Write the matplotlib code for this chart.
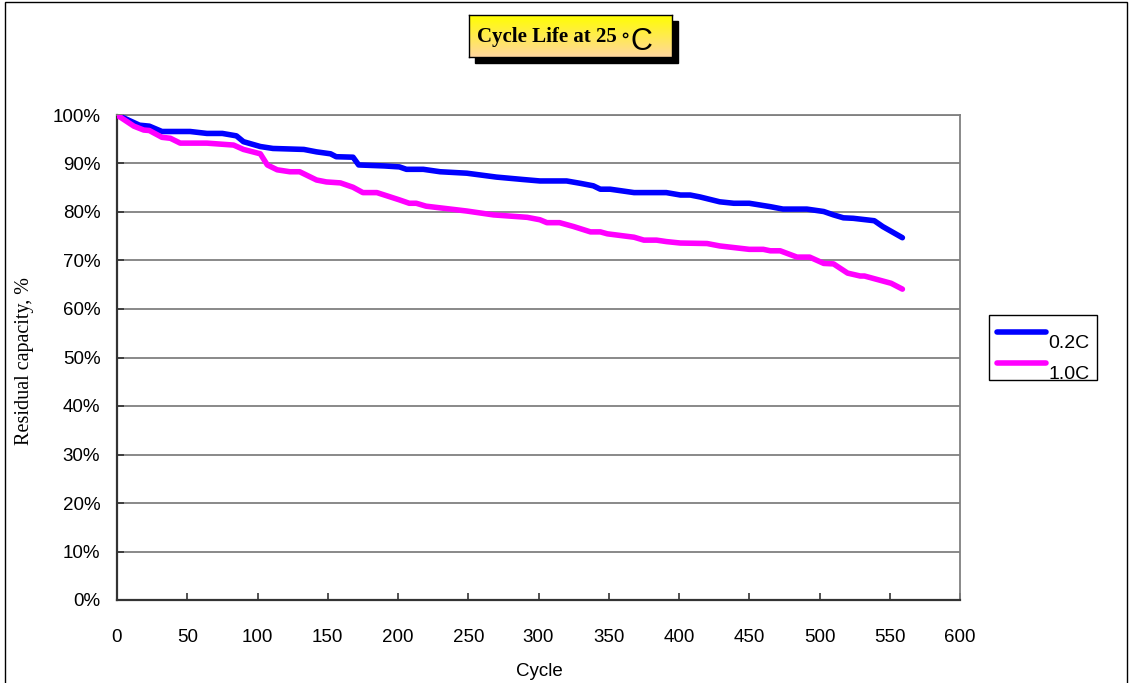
import numpy as np
import matplotlib.pyplot as plt
from matplotlib.patches import Rectangle
from matplotlib.lines import Line2D

# values
cycles_02c = [0, 4, 16, 23, 32, 52, 64, 75, 85, 90, 102, 111, 133, 142, 152, 156, 168, 172,
              190, 201, 206, 218, 230, 249, 270, 289, 301, 320, 330, 339, 344, 351, 368, 391,
              401, 408, 415, 429, 439, 450, 465, 474, 491, 503, 510, 517, 524, 539, 545, 559]
capacity_02c = [100, 99.5, 97.9, 97.7, 96.6, 96.6, 96.2, 96.2, 95.7, 94.5, 93.5, 93.1, 92.9,
                92.4, 92.0, 91.4, 91.3, 89.7, 89.5, 89.3, 88.8, 88.8, 88.3, 88.0, 87.2, 86.7,
                86.4, 86.4, 85.9, 85.4, 84.7, 84.7, 84.0, 84.0, 83.5, 83.5, 83.1, 82.1, 81.8,
                81.8, 81.1, 80.6, 80.6, 80.1, 79.4, 78.8, 78.7, 78.2, 77.0, 74.7]

cycles_10c = [0, 12, 19, 23, 32, 38, 45, 64, 83, 90, 102, 107, 114, 123, 130, 142, 149, 159,
              168, 175, 185, 201, 208, 213, 220, 249, 268, 292, 301, 306, 315, 325, 337, 344,
              349, 368, 375, 384, 391, 401, 420, 429, 450, 460, 465, 472, 484, 493, 503, 510,
              520, 529, 532, 551, 559]
capacity_10c = [100, 97.7, 96.9, 96.8, 95.4, 95.2, 94.2, 94.2, 93.8, 92.9, 92.0, 89.7, 88.7,
                88.3, 88.3, 86.6, 86.2, 86.0, 85.1, 84.0, 84.0, 82.5, 81.8, 81.8, 81.2, 80.2,
                79.4, 78.9, 78.4, 77.8, 77.8, 77.0, 75.9, 75.9, 75.5, 74.8, 74.2, 74.2, 73.9,
                73.6, 73.5, 73.0, 72.3, 72.3, 72.0, 72.0, 70.7, 70.7, 69.4, 69.3, 67.4, 66.8,
                66.8, 65.3, 64.1]

series_labels = ['0.2C', '1.0C']
series_colors = ['#0000FF', '#FF00FF']
x_ticks = list(range(0, 601, 50))
y_ticks = list(range(0, 101, 10))

W, H = 1131, 683
fig = plt.figure(figsize=(W / 100, H / 100), dpi=100)
sans = ['Liberation Sans', 'DejaVu Sans']
serif = ['Liberation Serif', 'DejaVu Serif']

ax = fig.add_axes([117 / W, 1 - 600 / H, (960 - 117) / W, (600 - 115) / H])
lines = []
for xs, ys, lab, col in [(cycles_02c, capacity_02c, series_labels[0], series_colors[0]),
                         (cycles_10c, capacity_10c, series_labels[1], series_colors[1])]:
    ln, = ax.plot(xs, ys, color=col, lw=4.0, solid_capstyle='round', label=lab, zorder=3)
    lines.append(ln)

ax.set_xlim(0, 600)
ax.set_ylim(0, 100)
ax.set_xticks(x_ticks)
ax.set_yticks(y_ticks)
ax.set_xticklabels([str(v) for v in x_ticks], family=sans, fontsize=13.5)
ax.set_yticklabels([f'{v}%' for v in y_ticks], family=sans, fontsize=13.5)
ax.tick_params(direction='in', length=5, width=1.2, color='#333333')
ax.tick_params(axis='x', pad=21)
ax.tick_params(axis='y', pad=12)
ax.yaxis.grid(True, color='#808080', lw=1.3)
ax.set_axisbelow(True)
for side in ['left', 'bottom']:
    ax.spines[side].set_color('#333333')
    ax.spines[side].set_linewidth(1.6)
for side in ['top', 'right']:
    ax.spines[side].set_color('#808080')
    ax.spines[side].set_linewidth(1.3)

fig.text(25 / W, 1 - 361 / H, 'Residual capacity, %', rotation=90, ha='center',
         va='center', family=serif, fontsize=14.5)
fig.text(539 / W, 1 - 671 / H, 'Cycle', ha='center', va='center', family=sans, fontsize=13.5)

# legend drawn by hand, label text sits a bit below its line as in the reference
fig.patches.append(Rectangle((989 / W, 1 - 380 / H), 108 / W, 65 / H, fill=False,
                             transform=fig.transFigure, edgecolor='black', lw=1.0))
for i, ln in enumerate(lines):
    yl = 332 + 31 * i
    fig.lines.append(Line2D([997 / W, 1046 / W], [1 - yl / H, 1 - yl / H],
                            transform=fig.transFigure, color=ln.get_color(),
                            lw=ln.get_linewidth(), solid_capstyle='round'))
    fig.text(1048 / W, 1 - (yl + 16) / H, ln.get_label(), ha='left', va='baseline',
             family=sans, fontsize=14)

# title box with gradient and shadow
fig.patches.append(Rectangle((475 / W, 1 - 63 / H), 203 / W, 42 / H,
                             transform=fig.transFigure, color='black', zorder=-1))
tax = fig.add_axes([469 / W, 1 - 57 / H, 203 / W, 42 / H])
grad = np.linspace(0, 1, 100).reshape(-1, 1)
top = np.array([1.0, 1.0, 0.0])
bot = np.array([1.0, 0.84, 0.62])
img = top[None, None, :] * (1 - grad[:, :, None]) + bot[None, None, :] * grad[:, :, None]
tax.imshow(img, aspect='auto', extent=(0, 1, 0, 1))
tax.set_xticks([])
tax.set_yticks([])
for s in tax.spines.values():
    s.set_color('black')
    s.set_linewidth(1.0)
fig.text(477 / W, 1 - 42 / H, 'Cycle Life at 25', ha='left', va='baseline',
         family=serif, fontweight='bold', fontsize=15, zorder=5)
fig.text(619 / W, 1 - 41 / H, '\u2218', ha='left', va='baseline',
         family=['DejaVu Sans'], fontweight='bold', fontsize=13, zorder=5)
fig.text(630 / W, 1 - 50 / H, 'C', ha='left', va='baseline',
         family=sans, fontsize=22, zorder=5)

# outer frame
fig.patches.append(Rectangle((5 / W, -0.1), (1127 - 5) / W, 1.1 - 2 / H, fill=False,
                             transform=fig.transFigure, edgecolor='black', lw=1.0))

fig.savefig('out.png', dpi=100)
